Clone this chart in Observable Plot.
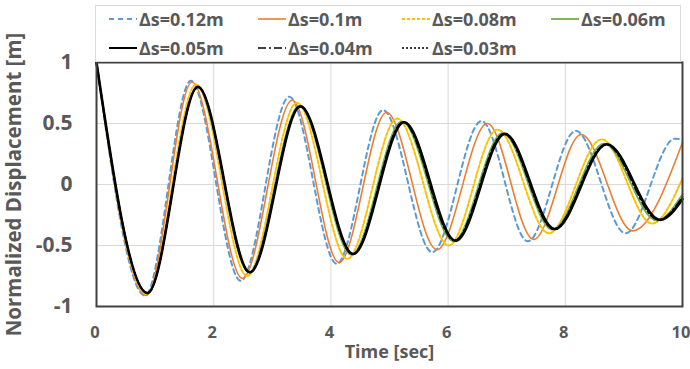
<!DOCTYPE html>
<html>
<head>
<meta charset="utf-8">
<script src="https://cdn.jsdelivr.net/npm/d3@7"></script>
<script src="https://cdn.jsdelivr.net/npm/@observablehq/plot@0.6"></script>
<style>
  html, body { margin: 0; padding: 0; background: #fff; }
  #wrap { position: relative; width: 690px; height: 369px; font-family: "Open Sans", sans-serif; }
  #legend { position: absolute; left: 95px; top: 5px; width: 586px; height: 57px; box-sizing: border-box;
            border: 1px solid #d9d9d9; pointer-events: none; }
  .item { position: absolute; display: flex; align-items: center; height: 22px; font-weight: 700;
          font-size: 18px; color: #595959; white-space: nowrap; }
  .item svg { margin-right: 2px; }
</style>
</head>
<body>
<div id="wrap"></div>
<script>
// Series labels (legend order)
const seriesNames = ["Δs=0.12m", "Δs=0.1m", "Δs=0.08m", "Δs=0.06m", "Δs=0.05m", "Δs=0.04m", "Δs=0.03m"];

// Extrema (peaks / troughs), plus start and end points
const t012 = [0, 0.83, 1.61, 2.46, 3.29, 4.10, 4.89, 5.73, 6.57, 7.36, 8.18, 9.03, 9.87, 10];
const v012 = [1, -0.91, 0.85, -0.79, 0.72, -0.65, 0.61, -0.555, 0.52, -0.465, 0.44, -0.40, 0.375, 0.37];

const t010 = [0, 0.85, 1.63, 2.49, 3.34, 4.14, 4.95, 5.81, 6.67, 7.46, 8.27, 9.15, 10];
const v010 = [1, -0.91, 0.84, -0.77, 0.69, -0.64, 0.59, -0.535, 0.50, -0.45, 0.41, -0.38, 0.345];

const t008 = [0, 0.86, 1.70, 2.57, 3.42, 4.28, 5.13, 6.01, 6.84, 7.72, 8.62, 9.48, 10];
const v008 = [1, -0.90, 0.82, -0.75, 0.67, -0.61, 0.54, -0.50, 0.45, -0.40, 0.37, -0.32, 0.05];

const t006 = [0, 0.87, 1.72, 2.60, 3.46, 4.35, 5.21, 6.09, 6.93, 7.78, 8.66, 9.56, 10];
const v006 = [1, -0.89, 0.80, -0.72, 0.645, -0.575, 0.515, -0.465, 0.42, -0.37, 0.335, -0.295, -0.08];

const t005 = [0, 0.87, 1.73, 2.62, 3.48, 4.38, 5.25, 6.13, 6.97, 7.82, 8.71, 9.62, 10];
const v005 = [1, -0.89, 0.80, -0.72, 0.64, -0.57, 0.51, -0.46, 0.415, -0.365, 0.33, -0.29, -0.12];

const t004 = [0, 0.87, 1.73, 2.61, 3.47, 4.37, 5.23, 6.11, 6.95, 7.80, 8.69, 9.59, 10];
const v004 = [1, -0.89, 0.80, -0.72, 0.64, -0.57, 0.51, -0.46, 0.415, -0.365, 0.33, -0.29, -0.10];

const t003 = [0, 0.87, 1.73, 2.62, 3.48, 4.37, 5.24, 6.12, 6.96, 7.81, 8.70, 9.61, 10];
const v003 = [1, -0.89, 0.80, -0.72, 0.64, -0.57, 0.51, -0.46, 0.415, -0.365, 0.33, -0.29, -0.11];

const xTicks = [0, 2, 4, 6, 8, 10];
const yTicks = [-1, -0.5, 0, 0.5, 1];

const times = [t012, t010, t008, t006, t005, t004, t003];
const values = [v012, v010, v008, v006, v005, v004, v003];

const styles = [
  {stroke: "#5B9BD5", strokeWidth: 2, dash: "5,4"},
  {stroke: "#ED7D31", strokeWidth: 1.6, dash: null},
  {stroke: "#FFC000", strokeWidth: 2, dash: "3,2"},
  {stroke: "#70AD47", strokeWidth: 1.8, dash: null},
  {stroke: "#000000", strokeWidth: 2.6, dash: null},
  {stroke: "#000000", strokeWidth: 1.6, dash: "8,3,2,3"},
  {stroke: "#000000", strokeWidth: 1.5, dash: "2,2"}
];

const lineMarks = seriesNames.map((name, i) => {
  const rows = times[i].map((t, j) => ({t, v: values[i][j]}));
  return Plot.line(rows, {
    x: "t", y: "v", curve: "monotone-x",
    stroke: styles[i].stroke, strokeWidth: styles[i].strokeWidth,
    strokeDasharray: styles[i].dash || undefined
  });
});

const chart = Plot.plot({
  width: 690, height: 369,
  marginTop: 62, marginBottom: 63, marginLeft: 96, marginRight: 8,
  style: {fontFamily: "Open Sans, sans-serif", fontWeight: 700, color: "#595959", background: "transparent", overflow: "visible"},
  x: {domain: [0, 10]},
  y: {domain: [-1, 1]},
  marks: [
    Plot.gridX([2, 4, 6, 8], {stroke: "#d9d9d9", strokeOpacity: 1, strokeWidth: 1}),
    Plot.gridY([-0.5, 0, 0.5], {stroke: "#d9d9d9", strokeOpacity: 1, strokeWidth: 1}),
    ...lineMarks,
    Plot.frame({stroke: "#404040", strokeWidth: 2}),
    Plot.axisY(yTicks, {tickSize: 0, tickPadding: 24, tickFormat: d => String(d), fontSize: 21, label: null}),
    Plot.axisX(xTicks, {tickSize: 0, tickPadding: 20, tickFormat: d => String(d), fontSize: 16.5, dx: -1.5, label: null}),
    Plot.text(["Time [sec]"], {frameAnchor: "bottom", dy: 51, fontSize: 18, fill: "#595959"}),
    Plot.text(["Normalized Displacement [m]"], {frameAnchor: "left", textAnchor: "middle", dx: -82, rotate: -90, fontSize: 20.5, fill: "#595959"})
  ]
});

const wrap = document.getElementById("wrap");
wrap.appendChild(chart);

// Legend
const legend = document.createElement("div");
legend.id = "legend";
wrap.appendChild(legend);
const pos = [[13, 2], [162, 2], [306, 2], [455, 2], [13, 31], [162, 31], [306, 31]];
seriesNames.forEach((name, i) => {
  const it = document.createElement("div");
  it.className = "item";
  it.style.left = pos[i][0] + "px";
  it.style.top = pos[i][1] + "px";
  const s = styles[i];
  it.innerHTML = `<svg width="28" height="10"><line x1="0" y1="5" x2="28" y2="5" stroke="${s.stroke}" stroke-width="${Math.min(s.strokeWidth, 2)}" ${s.dash ? `stroke-dasharray="${s.dash}"` : ""}/></svg><span>${name}</span>`;
  legend.appendChild(it);
});
</script>
</body>
</html>
